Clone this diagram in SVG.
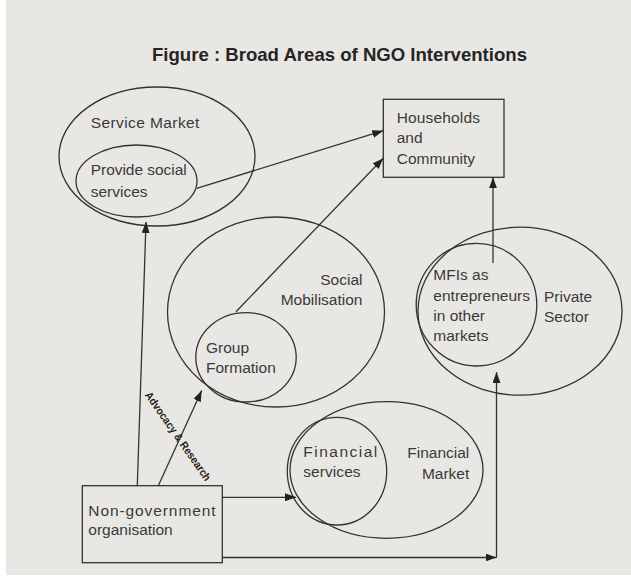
<svg xmlns="http://www.w3.org/2000/svg" width="631" height="581" viewBox="0 0 631 581">
  <defs>
    <marker id="arrow" markerUnits="userSpaceOnUse" markerWidth="11" markerHeight="8" refX="11" refY="4" orient="auto">
      <path d="M0,0 L11,4 L0,8 z" fill="#222"/>
    </marker>
    <style>
      .bg { fill: #e9e7e4; }
      .shape { fill: none; stroke: #333; stroke-width: 1.3; }
      .link { fill: none; stroke: #333; stroke-width: 1.3; marker-end: url(#arrow); }
      .lbl { font-family: "Liberation Sans", Arial, sans-serif; font-size: 15.5px; fill: #3a3a3a; }
      .end { text-anchor: end; }
      .title { font-family: "Liberation Sans", Arial, sans-serif; font-size: 18.5px; font-weight: bold; fill: #252525; }
      .note { font-family: "Liberation Sans", Arial, sans-serif; font-size: 11px; font-weight: bold; fill: #222; }
    </style>
  </defs>

  <rect width="631" height="581" fill="#ffffff"/>
  <rect class="bg" x="6" y="0" width="625" height="575"/>

  <text class="title" x="152" y="61" textLength="375" lengthAdjust="spacingAndGlyphs">Figure : Broad Areas of NGO Interventions</text>

  <g id="service-market">
    <ellipse class="shape" cx="157" cy="156.5" rx="98" ry="69.5"/>
    <text class="lbl" x="90.7" y="128" textLength="108.7" lengthAdjust="spacing">Service Market</text>
  </g>

  <g id="social-services">
    <ellipse class="shape" cx="136.5" cy="181" rx="60.5" ry="36"/>
    <text class="lbl" x="90.7" y="175" textLength="96" lengthAdjust="spacing">Provide social</text>
    <text class="lbl" x="90.7" y="196.7">services</text>
  </g>

  <g id="households">
    <rect class="shape" x="383.3" y="99.3" width="120.7" height="78"/>
    <text class="lbl" x="396.7" y="123.3" textLength="83.3" lengthAdjust="spacing">Households</text>
    <text class="lbl" x="396.7" y="143.3">and</text>
    <text class="lbl" x="396.7" y="164">Community</text>
  </g>

  <g id="social-mobilisation">
    <ellipse class="shape" cx="276" cy="312" rx="108.5" ry="95"/>
    <text class="lbl end" x="362.5" y="285">Social</text>
    <text class="lbl end" x="362.5" y="305">Mobilisation</text>
  </g>

  <g id="group-formation">
    <ellipse class="shape" cx="246" cy="357.3" rx="50.2" ry="44.7"/>
    <text class="lbl" x="206" y="352.7">Group</text>
    <text class="lbl" x="206" y="372.7">Formation</text>
  </g>

  <g id="private-sector">
    <ellipse class="shape" cx="520" cy="311.2" rx="102" ry="84"/>
    <text class="lbl" x="544" y="301.7">Private</text>
    <text class="lbl" x="544" y="321.7">Sector</text>
  </g>

  <g id="mfi">
    <ellipse class="shape" cx="476.5" cy="304.7" rx="60.3" ry="61.3"/>
    <text class="lbl" x="433.3" y="280">MFIs as</text>
    <text class="lbl" x="433.3" y="301" textLength="96.7" lengthAdjust="spacing">entrepreneurs</text>
    <text class="lbl" x="433.3" y="320.5">in other</text>
    <text class="lbl" x="433.3" y="340.5">markets</text>
  </g>

  <g id="financial-market">
    <ellipse class="shape" cx="386.5" cy="470" rx="96.5" ry="68.3"/>
    <text class="lbl end" x="469.3" y="458.3">Financial</text>
    <text class="lbl end" x="469.3" y="479.3">Market</text>
  </g>

  <g id="financial-services">
    <ellipse class="shape" cx="337" cy="471.2" rx="49.7" ry="53.8"/>
    <text class="lbl" x="303.3" y="456.7" textLength="74" lengthAdjust="spacing">Financial</text>
    <text class="lbl" x="303.3" y="477.3" textLength="57.3" lengthAdjust="spacing">services</text>
  </g>

  <g id="ngo">
    <rect class="shape" x="82.3" y="485.7" width="140" height="77"/>
    <text class="lbl" x="88.3" y="516" textLength="127.3" lengthAdjust="spacing">Non-government</text>
    <text class="lbl" x="88.3" y="535">organisation</text>
  </g>

  <g id="connectors">
    <line class="link" x1="196.7" y1="188.3" x2="383.3" y2="130.7"/>
    <line class="link" x1="236" y1="311.7" x2="383.3" y2="158.3"/>
    <line class="link" x1="493" y1="263" x2="493" y2="177.3"/>
    <line class="link" x1="137.3" y1="485.7" x2="146" y2="222"/>
    <line class="link" x1="158.3" y1="485.7" x2="201.7" y2="390.5"/>
    <line class="link" x1="222.3" y1="497.3" x2="296" y2="497.3"/>
    <line class="link" x1="222.3" y1="557.5" x2="496.5" y2="557.5"/>
    <line class="link" x1="496.5" y1="557.5" x2="496.5" y2="372"/>
    <text class="note" x="0" y="0" text-anchor="middle" textLength="106" lengthAdjust="spacingAndGlyphs" transform="translate(175,438.5) rotate(55)">Advocacy &amp; Research</text>
  </g>
</svg>
